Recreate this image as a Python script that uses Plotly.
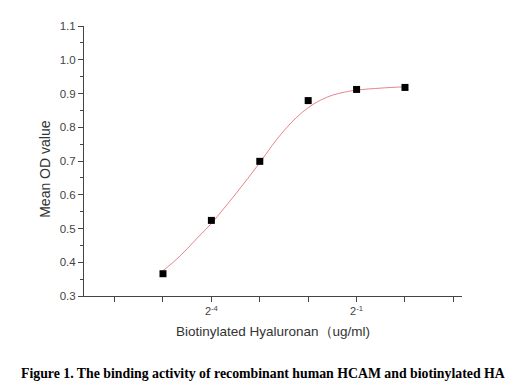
import plotly.graph_objects as go
import math

# Measured points (concentration in ug/ml, mean OD)
conc = [2**-5, 2**-4, 2**-3, 2**-2, 2**-1, 2**0]
mean_od = [0.366, 0.524, 0.699, 0.879, 0.912, 0.918]

# Fitted curve (log2 of concentration, OD)
curve_log2 = [-5.0, -4.75, -4.5, -4.25, -4.0, -3.75, -3.5, -3.25, -3.0, -2.75,
              -2.5, -2.25, -2.0, -1.75, -1.5, -1.25, -1.0, -0.5, 0.0]
curve_od = [0.375, 0.405, 0.440, 0.478, 0.515, 0.558, 0.602, 0.648, 0.695, 0.745,
            0.790, 0.828, 0.858, 0.880, 0.895, 0.904, 0.910, 0.916, 0.920]
curve_conc = [2**v for v in curve_log2]

# x ticks
tick_powers = [-6, -5, -4, -3, -2, -1, 0, 1]
tick_labels = ["", "", "2<sup>-4</sup>", "", "", "2<sup>-1</sup>", "", ""]

# page offset of the figure inside the browser window (body margin)
OFF = 8
L, T = 84 - OFF, 20 - OFF
PW, PH = 378, 276

fig = go.Figure()
fig.add_trace(go.Scatter(x=curve_conc, y=curve_od, mode="lines",
                         line=dict(color="#e8848a", width=1, shape="spline"),
                         hoverinfo="skip", showlegend=False))
fig.add_trace(go.Scatter(x=conc, y=mean_od, mode="markers",
                         marker=dict(symbol="square", size=7, color="black"),
                         showlegend=False))

l2 = math.log10(2)
fig.update_layout(
    width=513, height=390,
    margin=dict(l=L, r=513 - L - PW, t=T, b=390 - T - PH),
    plot_bgcolor="white", paper_bgcolor="white",
    font=dict(family="Liberation Sans, Arial, sans-serif", color="#444", size=11),
    xaxis=dict(type="log", range=[-6.632 * l2, 1.178 * l2],
               tickvals=[2**p for p in tick_powers], ticktext=tick_labels,
               ticks="outside", ticklen=5, tickcolor="#444", tickwidth=1,
               showline=True, linecolor="#444", linewidth=1,
               showgrid=False, zeroline=False,
               tickfont=dict(size=11, color="#444"),
               title=dict(text="Biotinylated Hyaluronan（ug/ml)",
                          font=dict(size=13.5, color="#333"), standoff=10)),
    yaxis=dict(range=[0.3, 1.1], dtick=0.1, tick0=0.3, tickformat=".1f",
               ticks="outside", ticklen=5, tickcolor="#444", tickwidth=1,
               showline=True, linecolor="#444", linewidth=1,
               showgrid=False, zeroline=False,
               tickfont=dict(size=11.5, color="#444"),
               minor=dict(dtick=0.05, ticks="outside", ticklen=3, tickcolor="#444",
                          showgrid=False)),
)

def px_x(p):
    return (p - OFF - L) / PW

def px_y(p):
    return (T + PH - (p - OFF)) / PH

fig.add_annotation(text="Mean OD value", x=px_x(45), y=px_y(167),
                   xref="paper", yref="paper", xanchor="center", yanchor="middle",
                   showarrow=False, textangle=-90, font=dict(size=14, color="#333"))
fig.add_annotation(text="<b>Figure 1. The binding activity of recombinant human HCAM and biotinylated HA</b>",
                   x=px_x(263), y=px_y(375), xref="paper", yref="paper",
                   xanchor="center", yanchor="middle", showarrow=False,
                   font=dict(family="Liberation Serif, Times New Roman, serif", size=13.8, color="black"))

fig.write_html("out.html")
